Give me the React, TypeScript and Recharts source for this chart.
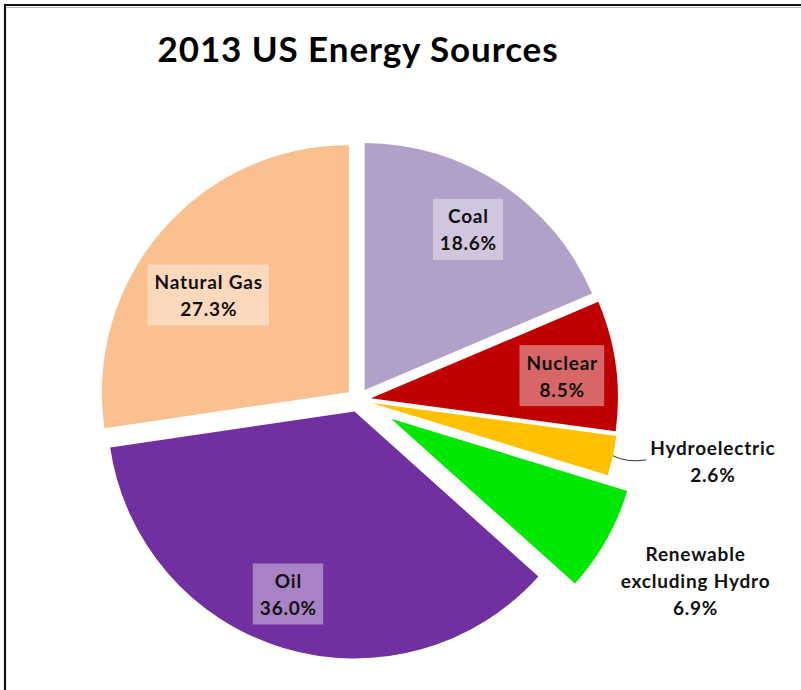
import React from 'react';
import { PieChart, Pie, Cell } from 'recharts';

// --- Data ---
const sources = ['Coal', 'Nuclear', 'Hydroelectric', 'Renewable excluding Hydro', 'Oil', 'Natural Gas'];
const shares = [18.6, 8.5, 2.6, 6.9, 36.0, 27.3];
const sliceColors = ['#B1A0C7', '#C00000', '#FFC000', '#00E800', '#7030A0', '#FAC090'];

// --- Layout ---
const W = 801;
const H = 690;
const CX = 358;
const CY = 400;
const R = 247;
const FONT = 'Lato, "Open Sans", sans-serif';
const LABEL_SIZE = 19;
const LABEL_SPACING = 0.8;

// how far each slice is pulled out, and where its label goes
const explode = [12, 13, 14, 38, 12, 12];
const labelLayout = [
  { outside: false, rf: 0.78, dx: -3, dy: 0, lines: ['Coal'] },
  { outside: false, rf: 0.78, dx: 0, dy: 3, lines: ['Nuclear'] },
  { outside: true, rf: 1.4, dx: 3, dy: -16, lines: ['Hydroelectric'], leader: true },
  { outside: true, rf: 1.4, dx: 3, dy: -8, lines: ['Renewable', 'excluding Hydro'] },
  { outside: false, rf: 0.78, dx: -11, dy: -2, lines: ['Oil'] },
  { outside: false, rf: 0.72, dx: -6, dy: 19, lines: ['Natural Gas'] },
];

const rows = sources.map((name, i) => ({ name, value: shares[i] }));
const total = shares.reduce((a, b) => a + b, 0);

// mid angle of each slice, clockwise from 12 o'clock, in degrees
let acc = 0;
const mids = shares.map(v => {
  const m = ((acc + v / 2) / total) * 360;
  acc += v;
  return m;
});

const dirOf = (deg: number) => {
  const rad = (deg * Math.PI) / 180;
  return { x: Math.sin(rad), y: -Math.cos(rad) };
};

const centers = mids.map((m, i) => {
  const d = dirOf(m);
  return { x: CX + d.x * explode[i], y: CY + d.y * explode[i] };
});

let measureCtx: CanvasRenderingContext2D | null = null;
const textWidth = (s: string) => {
  if (!measureCtx) measureCtx = document.createElement('canvas').getContext('2d');
  if (!measureCtx) return s.length * 10;
  measureCtx.font = `bold ${LABEL_SIZE}px ${FONT}`;
  return measureCtx.measureText(s).width + (s.length - 1) * LABEL_SPACING;
};

const makeLabel = (slice: number) => (props: any) => {
  if (props.index !== slice) return null;
  const lay = labelLayout[slice];
  const c = centers[slice];
  const d = dirOf(mids[slice]);
  const px = c.x + d.x * R * lay.rf + lay.dx;
  const py = c.y + d.y * R * lay.rf + lay.dy;
  const lines = [...lay.lines, `${shares[slice].toFixed(1)}%`];
  const lh = 27;
  const top = py - ((lines.length - 1) * lh) / 2;
  const maxW = Math.max(...lines.map(textWidth));

  return (
    <g key={`lbl-${slice}`}>
      {!lay.outside && (
        <rect x={px - maxW / 2 - 7} y={py - 30.5} width={maxW + 14} height={61} fill="#fff" fillOpacity={0.4} />
      )}
      {lay.leader && (
        <path
          d={`M${c.x + d.x * R},${c.y + d.y * R} Q${c.x + d.x * R + 14},${py + 2} ${px - maxW / 2 - 4},${py - 1}`}
          stroke="#333"
          strokeWidth={1}
          fill="none"
        />
      )}
      {lines.map((t, k) => (
        <text
          key={k}
          x={px + LABEL_SPACING / 2}
          y={top + k * lh}
          textAnchor="middle"
          dominantBaseline="central"
          fontFamily={FONT}
          fontWeight={700}
          fontSize={LABEL_SIZE}
          letterSpacing={LABEL_SPACING}
          fill="#111"
        >
          {t}
        </text>
      ))}
    </g>
  );
};

const App: React.FC = () => {
  return (
    <div style={{ position: 'fixed', left: 0, top: 0, width: W, height: H, overflow: 'hidden', background: '#fff' }}>
      <PieChart width={W} height={H} margin={{ top: 0, right: 0, bottom: 0, left: 0 }}>
        {sources.map((_, i) => (
          <Pie
            key={i}
            data={rows}
            dataKey="value"
            nameKey="name"
            cx={centers[i].x}
            cy={centers[i].y}
            outerRadius={R}
            startAngle={90}
            endAngle={-270}
            stroke="none"
            label={makeLabel(i)}
            labelLine={false}
            isAnimationActive={false}
          >
            {rows.map((r, j) => (
              <Cell key={r.name} fill={j === i ? sliceColors[j] : 'transparent'} stroke="none" />
            ))}
          </Pie>
        ))}
      </PieChart>

      {/* frame + title */}
      <svg width={W} height={H} style={{ position: 'absolute', left: 0, top: 0, pointerEvents: 'none' }}>
        <path d={`M5,${H} L5,5 L${W},5`} stroke="#111" strokeWidth={2.2} fill="none" />
        <line x1={6} y1={7.5} x2={W} y2={7.5} stroke="#bbb" strokeWidth={1} />
        <text
          x={358}
          y={62}
          textAnchor="middle"
          fontFamily={FONT}
          fontWeight={700}
          fontSize={35}
          letterSpacing={0.9}
          fill="#000"
        >
          2013 US Energy Sources
        </text>
      </svg>
    </div>
  );
};

export default App;
